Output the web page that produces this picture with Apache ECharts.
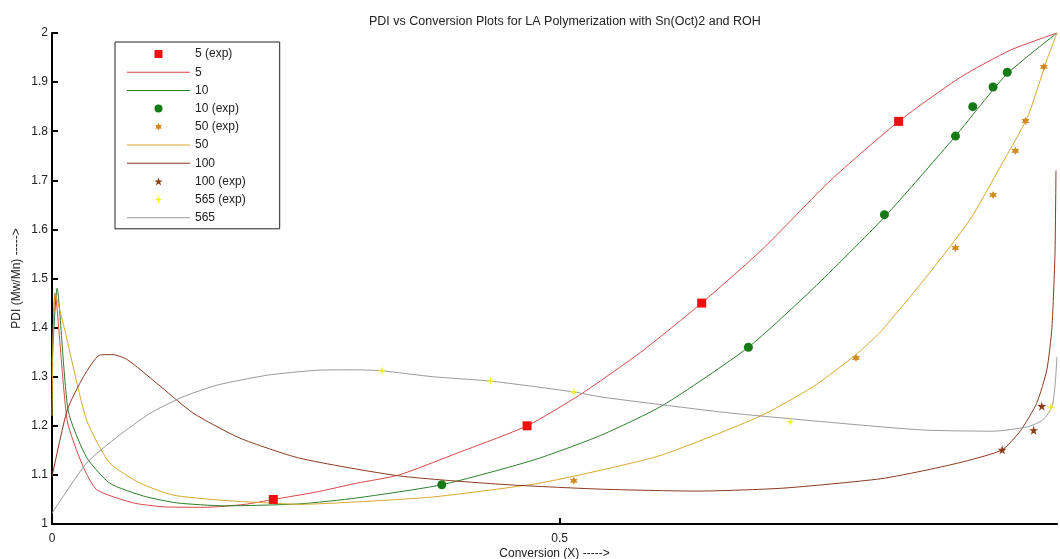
<!DOCTYPE html>
<html>
<head>
<meta charset="utf-8">
<script src="https://cdn.jsdelivr.net/npm/echarts@6/dist/echarts.min.js"></script>
<style>
html, body { margin: 0; padding: 0; background: #fff; }
#main { width: 1060px; height: 559px; }
</style>
</head>
<body>
<div id="main"></div>
<script>
// conversion / PDI pairs
var exp5 = [[0.218, 1.05], [0.468, 1.20], [0.640, 1.45], [0.834, 1.82]];
var fit5 = [[0, 1.30], [0.003, 1.47], [0.015, 1.21], [0.03, 1.12], [0.044, 1.07], [0.08, 1.043],
  [0.11, 1.035], [0.15, 1.034], [0.19, 1.04], [0.218, 1.05], [0.26, 1.065], [0.30, 1.083],
  [0.342, 1.10], [0.40, 1.145], [0.468, 1.20], [0.52, 1.263], [0.58, 1.35], [0.64, 1.45],
  [0.70, 1.56], [0.767, 1.70], [0.834, 1.82], [0.895, 1.91], [0.944, 1.965], [0.99, 2.0]];
var fit10 = [[0, 1.33], [0.005, 1.48], [0.016, 1.23], [0.034, 1.136], [0.057, 1.083], [0.09, 1.057],
  [0.123, 1.043], [0.17, 1.037], [0.244, 1.041], [0.30, 1.053], [0.384, 1.08], [0.474, 1.13],
  [0.54, 1.18], [0.602, 1.242], [0.686, 1.36], [0.75, 1.48], [0.82, 1.625], [0.89, 1.79],
  [0.94, 1.915], [0.99, 2.0]];
var exp10 = [[0.384, 1.08], [0.686, 1.36], [0.820, 1.63], [0.890, 1.79], [0.907, 1.85], [0.927, 1.89], [0.941, 1.92]];
var exp50 = [[0.514, 1.088], [0.792, 1.338], [0.890, 1.562], [0.927, 1.67], [0.949, 1.76], [0.959, 1.821], [0.977, 1.931]];
var fit50 = [[0, 1.22], [0.003, 1.47], [0.012, 1.40], [0.034, 1.212], [0.057, 1.124], [0.087, 1.083],
  [0.119, 1.059], [0.163, 1.049], [0.212, 1.043], [0.244, 1.04], [0.30, 1.045], [0.375, 1.055],
  [0.474, 1.081], [0.52, 1.10], [0.60, 1.14], [0.698, 1.22], [0.75, 1.28], [0.792, 1.345],
  [0.816, 1.391], [0.86, 1.50], [0.904, 1.619], [0.934, 1.727], [0.961, 1.829], [0.98, 1.945], [0.99, 2.0]];
var fit100 = [[0, 1.096], [0.015, 1.232], [0.031, 1.30], [0.047, 1.344], [0.06, 1.345], [0.074, 1.335],
  [0.103, 1.287], [0.139, 1.226], [0.185, 1.175], [0.244, 1.134], [0.342, 1.098], [0.441, 1.081],
  [0.54, 1.071], [0.635, 1.067], [0.72, 1.073], [0.816, 1.092], [0.862, 1.11], [0.90, 1.128],
  [0.936, 1.151], [0.954, 1.19], [0.97, 1.246], [0.98, 1.314], [0.985, 1.40], [0.988, 1.55], [0.989, 1.72]];
var exp100 = [[0.936, 1.151], [0.967, 1.191], [0.975, 1.240]];
var exp565 = [[0.325, 1.312], [0.432, 1.291], [0.514, 1.269], [0.727, 1.208], [0.984, 1.238]];
var fit565 = [[0, 1.022], [0.034, 1.124], [0.064, 1.177], [0.097, 1.226], [0.129, 1.259], [0.163, 1.283],
  [0.212, 1.303], [0.26, 1.313], [0.30, 1.314], [0.325, 1.312], [0.375, 1.30], [0.432, 1.291],
  [0.514, 1.269], [0.54, 1.259], [0.60, 1.243], [0.668, 1.226], [0.74, 1.212], [0.816, 1.198],
  [0.862, 1.191], [0.927, 1.189], [0.961, 1.198], [0.976, 1.212], [0.985, 1.238], [0.988, 1.28], [0.99, 1.34]];

var square = 'path://M0,0H10V10H0Z';
var star5 = 'path://M5,0 L6.2,3.6 L10,3.6 L6.9,5.9 L8.1,9.5 L5,7.3 L1.9,9.5 L3.1,5.9 L0,3.6 L3.8,3.6 Z';
var star6 = 'path://M5,0 L6.3,2.75 L9.33,2.5 L7.6,5 L9.33,7.5 L6.3,7.25 L5,10 L3.7,7.25 L0.67,7.5 L2.4,5 L0.67,2.5 L3.7,2.75 Z';
var spark = 'path://M5,0 L6,4 L10,5 L6,6 L5,10 L4,6 L0,5 L4,4 Z';
var lineIcon = 'path://M0,0H63V1H0Z';

function fitLine(name, data, color) {
  return {
    name: name, type: 'line', data: data, showSymbol: false, symbol: 'none',
    smooth: 0.2, lineStyle: { color: color, width: 1 }, itemStyle: { color: color },
    z: 2, silent: true
  };
}
function points(name, data, color, symbol, size) {
  return {
    name: name, type: 'scatter', data: data, symbol: symbol, symbolSize: size,
    itemStyle: { color: color, opacity: 1 }, z: 3, silent: true
  };
}

var chart = echarts.init(document.getElementById('main'));
var option = {
  animation: false,
  backgroundColor: '#fff',
  title: {
    text: 'PDI vs Conversion Plots for LA Polymerization with Sn(Oct)2 and ROH',
    left: 364, top: 10,
    textStyle: { fontSize: 12.5, fontWeight: 'normal', color: '#222', fontFamily: 'Liberation Sans' }
  },
  legend: {
    orient: 'vertical', left: 115, top: 42,
    padding: [6, 34, 5, 12],
    itemWidth: 63, itemHeight: 8, itemGap: 6.2,
    backgroundColor: '#fff', borderColor: '#222', borderWidth: 1, borderRadius: 0,
    textStyle: { fontSize: 12, color: '#222', fontFamily: 'Liberation Sans' },
    data: [
      { name: '5 (exp)', icon: square },
      { name: '5', icon: lineIcon },
      { name: '10', icon: lineIcon },
      { name: '10 (exp)', icon: 'circle' },
      { name: '50 (exp)', icon: star6 },
      { name: '50', icon: lineIcon },
      { name: '100', icon: lineIcon },
      { name: '100 (exp)', icon: star5 },
      { name: '565 (exp)', icon: spark },
      { name: '565', icon: lineIcon }
    ]
  },
  grid: { left: 52, right: 3, top: 33, bottom: 35, containLabel: false, outerBoundsMode: 'none' },
  xAxis: {
    type: 'value', min: 0, max: 0.99, interval: 0.5,
    name: 'Conversion (X) ----->', nameLocation: 'middle', nameGap: 24, nameMoveOverlap: false,
    nameTextStyle: { fontSize: 12, color: '#222', fontFamily: 'Liberation Sans' },
    axisLine: { lineStyle: { color: '#000', width: 2 } },
    axisTick: { inside: true, length: 6, lineStyle: { color: '#000', width: 2 } },
    axisLabel: { fontSize: 12, color: '#222', margin: 9, showMaxLabel: false, fontFamily: 'Liberation Sans' },
    splitLine: { show: false }
  },
  yAxis: {
    type: 'value', min: 1, max: 2, interval: 0.1,
    name: 'PDI (Mw/Mn) ----->', nameLocation: 'middle', nameGap: 29, nameMoveOverlap: false,
    nameTextStyle: { fontSize: 12, color: '#222', fontFamily: 'Liberation Sans' },
    axisLine: { show: true, lineStyle: { color: '#000', width: 2 } },
    axisTick: { show: true, inside: true, length: 6, lineStyle: { color: '#000', width: 2 } },
    axisLabel: { fontSize: 12, color: '#222', margin: 4, fontFamily: 'Liberation Sans',
      formatter: function (v) { return String(Math.round(v * 10) / 10); } },
    splitLine: { show: false }
  },
  series: [
    points('5 (exp)', exp5, '#ee1111', 'rect', 9),
    fitLine('5', fit5, '#d94848'),
    fitLine('10', fit10, '#2a7f2a'),
    points('10 (exp)', exp10, '#157a15', 'circle', 9),
    points('50 (exp)', exp50, '#d08a20', star6, 8),
    fitLine('50', fit50, '#d8a830'),
    fitLine('100', fit100, '#8b3a1e'),
    points('100 (exp)', exp100, '#8b3a14', star5, 9),
    points('565 (exp)', exp565, '#f2f020', spark, 9),
    fitLine('565', fit565, '#9a9a9a')
  ]
};
chart.setOption(option);
</script>
</body>
</html>
